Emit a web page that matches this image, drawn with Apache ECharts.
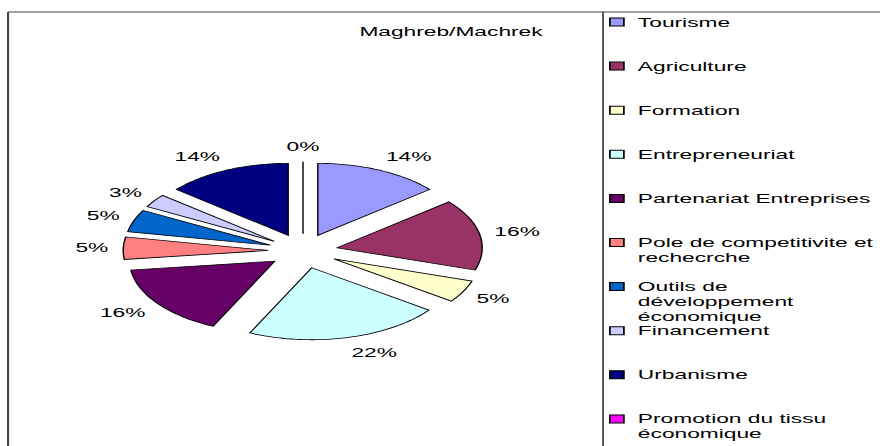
<!DOCTYPE html>
<html>
<head>
<meta charset="utf-8">
<script src="https://cdn.jsdelivr.net/npm/echarts@6/dist/echarts.min.js"></script>
<style>
html, body { margin: 0; padding: 0; background: #fff; overflow: hidden; }
/* the source picture is stretched sideways, so the whole chart is drawn narrow and widened */
#chart { width: 503px; height: 446px; transform: scaleX(1.75); transform-origin: 0 0; }
</style>
</head>
<body>
<div id="chart"></div>
<script>
const categories = [
  'Tourisme',
  'Agriculture',
  'Formation',
  'Entrepreneuriat',
  'Partenariat Entreprises',
  'Pole de competitivite et\nrechecrche',
  'Outils de\ndéveloppement\néconomique',
  'Financement',
  'Urbanisme',
  'Promotion du tissu\néconomique'
]
const shares = [14, 16, 5, 22, 16, 5, 5, 3, 14, 0]
const colors = ['#9999FF', '#993366', '#FFFFCC', '#CCFFFF', '#660066', '#FF8080', '#0066CC', '#CCCCFF', '#000080', '#FF00FF']

const FONT = "'Liberation Sans', Arial, sans-serif"
const SX = 1.75
const CX = 303 / SX
const CY = 251
const RX = 145 / SX
const RY = 72
const EXPLODE = 0.24
const LABEL_GAP = 15
const LINE = 15

const total = shares.reduce((a, b) => a + b, 0)
const starts = shares.map((_, i) => shares.slice(0, i).reduce((a, b) => a + b, 0))

function renderSlice (params, api) {
  const start = api.value(0) / total * Math.PI * 2
  const end = api.value(1) / total * Math.PI * 2
  const mid = (start + end) / 2
  const s = Math.sin(mid)
  const c = Math.cos(mid)
  // exploded apex of the slice
  const ox = CX + EXPLODE * RX * s
  const oy = CY - EXPLODE * RY * c
  const points = [[ox, oy]]
  const steps = Math.max(1, Math.ceil((end - start) / 0.02))
  for (let k = 0; k <= steps; k++) {
    const t = start + (end - start) * k / steps
    points.push([ox + RX * Math.sin(t), oy - RY * Math.cos(t)])
  }
  const lx = ox + RX * s + LABEL_GAP * s / SX
  const ly = oy - RY * c - LABEL_GAP * c
  const pct = Math.round((api.value(1) - api.value(0)) / total * 100) + '%'
  return {
    type: 'group',
    children: [
      {
        type: 'polygon',
        shape: { points },
        style: { fill: api.visual('color'), stroke: '#000', lineWidth: 0.8 }
      },
      {
        type: 'text',
        x: lx,
        y: ly,
        style: {
          text: pct,
          fill: '#000',
          fontSize: 13,
          fontFamily: FONT,
          align: s > 0.1 ? 'left' : (s < -0.1 ? 'right' : 'center'),
          verticalAlign: 'middle'
        }
      }
    ]
  }
}

const chart = echarts.init(document.getElementById('chart'), null, { renderer: 'svg' })

chart.setOption({
  backgroundColor: '#fff',
  animation: false,
  title: {
    text: 'Maghreb/Machrek',
    left: 451 / SX,
    top: 25,
    textAlign: 'center',
    padding: 0,
    textStyle: { fontSize: 13, fontWeight: 'normal', fontFamily: FONT, color: '#000' }
  },
  // one legend per entry so every entry sits on the same 44px pitch;
  // blank lines in front keep the icon level with the first text line
  legend: categories.map((name, i) => {
    const lines = name.split('\n').length
    return {
      data: [name],
      orient: 'vertical',
      left: 348,
      top: 22 + 44.1 * i - (2 * lines - 1) * LINE / 2,
      padding: 0,
      itemWidth: 8,
      itemHeight: 8,
      icon: 'rect',
      selectedMode: false,
      formatter: n => '\n'.repeat(lines - 1) + n,
      itemStyle: { borderColor: '#000', borderWidth: 1 },
      textStyle: {
        fontSize: 13,
        fontFamily: FONT,
        color: '#000',
        lineHeight: LINE,
        padding: [0, 0, 0, 3]
      }
    }
  }),
  graphic: [
    { type: 'line', shape: { x1: 4.6, y1: 12, x2: 503, y2: 12 }, style: { stroke: '#444', lineWidth: 1.2 } },
    { type: 'line', shape: { x1: 4.6, y1: 12, x2: 4.6, y2: 446 }, style: { stroke: '#444', lineWidth: 1.2 } },
    { type: 'line', shape: { x1: 344.6, y1: 12, x2: 344.6, y2: 446 }, style: { stroke: '#444', lineWidth: 1 } }
  ],
  series: categories.map((name, i) => ({
    type: 'custom',
    name,
    coordinateSystem: 'none',
    itemStyle: { color: colors[i] },
    renderItem: renderSlice,
    data: [[starts[i], starts[i] + shares[i]]]
  }))
})
</script>
</body>
</html>
